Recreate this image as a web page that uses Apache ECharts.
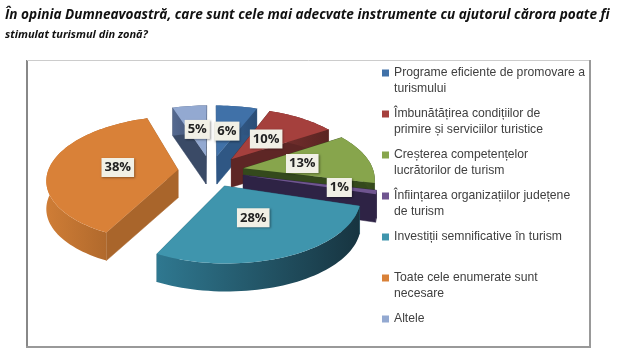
<!DOCTYPE html>
<html><head><meta charset="utf-8">
<style>html,body{margin:0;padding:0;background:#fff}#c{width:618px;height:353px}</style>
<script src="https://cdn.jsdelivr.net/npm/echarts@6/dist/echarts.min.js"></script>
</head><body><div id="c"></div>
<script>
const titleLine1 = 'În opinia Dumneavoastră, care sunt cele mai adecvate instrumente cu ajutorul cărora poate fi';
const titleLine2 = 'stimulat turismul din zonă?';
const categories = [
  'Programe eficiente de promovare a\nturismului',
  'Îmbunătățirea condițiilor de\nprimire și serviciilor turistice',
  'Creșterea competențelor\nlucrătorilor de turism',
  'Înființarea organizațiilor județene\nde turism',
  'Investiții semnificative în turism\n ',
  'Toate cele enumerate sunt\nnecesare',
  'Altele\n '
];
const values = [6, 10, 13, 1, 28, 38, 5];
const topColors = ['#4071a8', '#a5403d', '#87a54c', '#6f5590', '#3f95ad', '#d98138', '#93a9d1'];
const cutColors = ['#2f5784', '#5e2625', '#34491c', '#2e2345', '#2b6a7e', '#a9652b', '#3a4a66'];
const wallLeft = ['#3a6596', '#7a3230', '#4a6428', '#3a2c55', '#2f7890', '#cf7d36', '#55698f'];
const wallRight = ['#2a4d76', '#5a2422', '#33481b', '#2a2040', '#173440', '#9c5c26', '#3d4d6e'];

const CX = 211, CY = 171, R = 130, RY = 61.7, PERSP = 0.143, EXPLODE = 0.255, DEPTH = 28;
const LABEL_F = [0.47, 0.47, 0.47, 0.73, 0.49, 0.47, 0.5];
const total = values.reduce((a, b) => a + b, 0);
const starts = [];
values.reduce((s, v, i) => (starts[i] = s, s + v), 0);

function project(u, v, drop) {
  const d = 1 - PERSP * v;
  return [CX + R * u / d, CY + RY * v / d + (drop || 0)];
}
function makeRender(idx) {
  return function () {
    const a0 = starts[idx] / total * 2 * Math.PI, a1 = (starts[idx] + values[idx]) / total * 2 * Math.PI;
    const am = (a0 + a1) / 2;
    const ox = EXPLODE * Math.sin(am), oy = -EXPLODE * Math.cos(am);
    const pt = (a, r) => [ox + r * Math.sin(a), oy - r * Math.cos(a)];
    const P = (q, drop) => project(q[0], q[1], drop);
    const apex = [ox, oy];
    const cut = (q) => ({
      z: (apex[1] + q[1]) / 2,
      points: [P(apex, 0), P(q, 0), P(q, DEPTH), P(apex, DEPTH)]
    });
    const faces = [cut(pt(a0, 1)), cut(pt(a1, 1))].sort((a, b) => a.z - b.z);
    const children = faces.map(f => ({
      type: 'polygon', shape: { points: f.points },
      style: { fill: cutColors[idx], stroke: cutColors[idx], lineWidth: 0.5 }
    }));
    const n = Math.max(2, Math.ceil((a1 - a0) / (2 * Math.PI / 180)));
    const arc = [];
    for (let i = 0; i <= n; i++) arc.push(pt(a0 + (a1 - a0) * i / n, 1));
    const wall = arc.map(q => P(q, 0)).concat(arc.slice().reverse().map(q => P(q, DEPTH)));
    children.push({
      type: 'polygon', shape: { points: wall },
      style: {
        fill: new echarts.graphic.LinearGradient(0, 0, 1, 0, [
          { offset: 0, color: wallLeft[idx] }, { offset: 1, color: wallRight[idx] }
        ])
      }
    });
    const top = [P(apex, 0)].concat(arc.map(q => P(q, 0)));
    children.push({ type: 'polygon', shape: { points: top }, style: { fill: topColors[idx] } });
    const lp = P(pt(am, LABEL_F[idx]), 0);
    children.push({
      type: 'text', x: lp[0], y: lp[1], z2: 100,
      style: {
        text: values[idx] + '%', x: 0, y: 0, align: 'center', verticalAlign: 'middle',
        fontFamily: 'Open Sans', fontWeight: 'bold', fontSize: 13, fill: '#222',
        backgroundColor: '#f1f0e6', padding: [3, 3, 3, 3],
        shadowBlur: 2, shadowColor: 'rgba(0,0,0,0.35)', shadowOffsetX: 1, shadowOffsetY: 1
      }
    });
    return { type: 'group', children };
  };
}
// back-to-front painter's order: series z follows slice depth
const paintOrder = [6, 0, 1, 5, 2, 3, 4];
const series = categories.map((name, i) => ({
  type: 'custom', name, coordinateSystem: 'none',
  data: [values[i]], renderItem: makeRender(i),
  itemStyle: { color: topColors[i] },
  z: 2 + paintOrder.indexOf(i), silent: true, animation: false
}));
function frameLine(x1, y1, x2, y2, stroke, lineWidth) {
  return { type: 'line', silent: true, z: -1, shape: { x1, y1, x2, y2 }, style: { stroke, lineWidth } };
}
const chart = echarts.init(document.getElementById('c'), null, { renderer: 'canvas' });
chart.setOption({
  backgroundColor: '#fff', animation: false,
  title: {
    left: 5, top: 5, padding: 0,
    text: '{a|' + titleLine1 + '}\n{b|' + titleLine2 + '}',
    textStyle: {
      rich: {
        a: { fontFamily: 'Open Sans', fontStyle: 'italic', fontWeight: 'bold', fontSize: 13.6, color: '#111', lineHeight: 20 },
        b: { fontFamily: 'Open Sans', fontStyle: 'italic', fontWeight: 'bold', fontSize: 11, color: '#111', lineHeight: 20 }
      }
    }
  },
  legend: {
    orient: 'vertical', left: 382, top: 65, padding: 0,
    itemWidth: 7, itemHeight: 32, itemGap: 9, symbolKeepAspect: false, selectedMode: false,
    icon: 'path://M0,0L0,0 M0,4.5L7,4.5L7,11.5L0,11.5Z M0,32L0,32',
    textStyle: { fontFamily: 'Liberation Sans', fontSize: 12.2, color: '#404040', lineHeight: 16 },
    data: categories
  },
  graphic: [
    frameLine(27, 60, 27, 347, '#888', 2),
    frameLine(27, 60.5, 590, 60.5, '#ccc', 1),
    frameLine(590, 60, 590, 347, '#999', 2),
    frameLine(26, 347, 591, 347, '#999', 2)
  ],
  series
});
</script></body></html>
